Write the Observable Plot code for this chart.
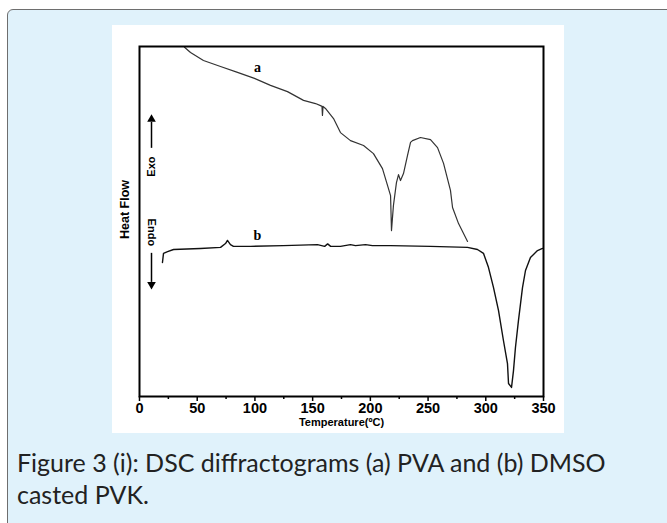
<!DOCTYPE html>
<html><head><meta charset="utf-8">
<script src="https://cdn.jsdelivr.net/npm/d3@7"></script>
<script src="https://cdn.jsdelivr.net/npm/@observablehq/plot@0.6"></script>
<style>
body{margin:0;background:#fff;width:667px;height:523px;overflow:hidden;position:relative;font-family:"Liberation Sans",Arial,sans-serif;}
#box{position:absolute;left:7px;top:9px;width:720px;height:600px;border:1px solid #6e6e6e;border-radius:6px;background:#e0f2fb;}
#chart{position:absolute;left:112px;top:25px;background:#fff;line-height:0;}
#caption{position:absolute;left:17px;top:446px;font-family:Lato,"Noto Sans",sans-serif;font-size:25px;line-height:32px;color:#222;white-space:nowrap;}
</style></head><body>
<div id="box"></div>
<div id="chart"></div>
<div id="caption">Figure 3 (i): DSC diffractograms (a) PVA and (b) DMSO<br>casted PVK.</div>
<script>
// Curve a: PVA
const tempA = [39.0,44.2,55.4,70.2,84.9,99.6,113.5,128.2,142.1,152.5,156.8,158.1,158.5,159.0,161.1,168.1,174.1,182.8,194.1,202.7,210.5,215.7,217.5,218.3,220.0,222.6,224.4,226.1,228.7,232.2,234.8,236.5,243.4,252.1,258.2,263.4,269.4,271.2,276.4,284.2];
const flowA = [99.8,98.3,96.0,94.3,92.6,90.9,88.9,87.1,84.6,83.7,83.1,82.9,80.3,82.9,82.3,79.4,75.4,73.1,71.7,69.4,65.1,59.4,57.4,47.4,54.6,61.1,63.4,61.7,63.7,68.9,72.6,73.1,74.0,73.4,71.1,66.6,58.9,54.0,49.4,44.3];
// Curve b: DMSO casted PVK
const tempB = [19.9,20.8,24.3,29.5,52.8,70.2,74.5,76.2,78.8,81.4,96.2,124.7,154.2,160.4,163.0,165.6,174.1,182.8,187.1,195.8,201.8,217.5,252.1,284.2,292.8,298.0,302.3,306.7,311.0,315.3,318.8,319.7,322.3,324.0,325.7,328.3,331.8,334.4,338.7,344.8,349.1];
const flowB = [38.3,40.9,41.4,42.0,42.3,42.6,43.7,44.6,43.4,42.9,42.9,43.1,43.4,42.9,43.6,42.9,42.9,43.4,43.1,43.4,43.1,43.1,42.9,42.6,42.0,40.9,36.9,31.1,24.6,16.0,9.4,3.7,2.6,7.4,14.0,21.7,31.1,36.0,39.7,41.7,42.3];

const majorTicks = [0,50,100,150,200,250,300,350];
const minorTicks = [25,75,125,175,225,275,325];
const curveLabels = [{T:102.2, v:94.0, text:"a"}, {T:102.2, v:46.0, text:"b"}];
const arrowShafts = [{T:10.4, v1:70.9, v2:78.3}, {T:10.4, v1:40.9, v2:32.6}];
const arrowHeads = [{T:10.4, v:79.2, rot:0}, {T:10.4, v:32.0, rot:180}];
const sideLabels = [{T:10.4, v:65.7, text:"Exo", rot:-90}, {T:10.4, v:46.9, text:"Endo", rot:90}];

const dataA = tempA.map((T,i)=>({T, v:flowA[i]}));
const dataB = tempB.map((T,i)=>({T, v:flowB[i]}));

const plot = Plot.plot({
  width: 452, height: 408,
  marginLeft: 27, marginRight: 21, marginTop: 21, marginBottom: 37,
  style: {background:"#fff", fontFamily:"'Liberation Sans', Arial, sans-serif", color:"#000", overflow:"visible"},
  x: {domain:[0,350]},
  y: {domain:[0,100], axis:null},
  marks: [
    Plot.axisX(majorTicks, {tickSize:5, tickPadding:1, fontSize:14.5, fontWeight:"bold", strokeWidth:1.5, label:null}),
    Plot.axisX(minorTicks, {tickSize:3, tickFormat:()=>"", strokeWidth:1.5, label:null}),
    Plot.text(["Temperature(ºC)"], {frameAnchor:"bottom", dy:29, fontWeight:"bold", fontSize:11}),
    Plot.text(["Heat Flow"], {frameAnchor:"left", textAnchor:"middle", dx:-15, dy:-12, rotate:-90, fontWeight:"bold", fontSize:12.5}),
    Plot.line(dataA, {x:"T", y:"v", stroke:"#333", strokeWidth:1.2}),
    Plot.line(dataB, {x:"T", y:"v", stroke:"#111", strokeWidth:1.4}),
    Plot.text(curveLabels, {x:"T", y:"v", text:"text", fontFamily:"'Liberation Serif', 'Times New Roman', serif", fontWeight:"bold", fontSize:14}),
    Plot.ruleX(arrowShafts, {x:"T", y1:"v1", y2:"v2", stroke:"#000", strokeWidth:1.5}),
    Plot.dot(arrowHeads, {x:"T", y:"v", symbol:"triangle", rotate:"rot", fill:"#000", stroke:null, r:3.2}),
    Plot.text(sideLabels, {x:"T", y:"v", text:"text", rotate:"rot", fontWeight:"bold", fontSize:11}),
    Plot.frame({stroke:"#000", strokeWidth:2})
  ]
});
document.getElementById("chart").appendChild(plot);
</script>
</body></html>
